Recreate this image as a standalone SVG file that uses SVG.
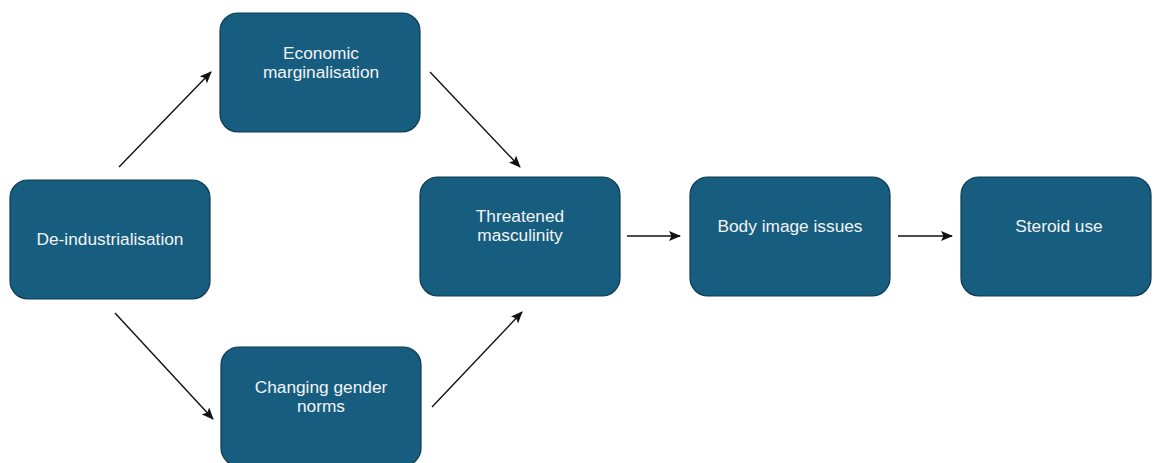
<svg xmlns="http://www.w3.org/2000/svg" width="1154" height="463" viewBox="0 0 1154 463">
<style>
.box{fill:#175d7f;stroke:#0d3a50;stroke-width:1.2}
.lbl{font-family:"Liberation Sans",Arial,Helvetica,sans-serif;font-size:17.3px;fill:#f2f4f5;text-anchor:middle}
.edge{stroke:#111;stroke-width:1.4;fill:none;marker-end:url(#arr)}
</style>
<defs>
<marker id="arr" viewBox="0 0 12 10" refX="11" refY="5" markerWidth="12" markerHeight="10" markerUnits="userSpaceOnUse" orient="auto">
<path d="M0,0 L12,5 L0,10 L2.5,5 Z" fill="#111"/>
</marker>
</defs>
<rect width="1154" height="463" fill="#ffffff"/>
<g id="connectors">
<line class="edge" x1="119" y1="167" x2="211" y2="72"/>
<line class="edge" x1="430" y1="72" x2="520" y2="167"/>
<line class="edge" x1="115" y1="313" x2="213" y2="419"/>
<line class="edge" x1="432" y1="407" x2="522" y2="312"/>
<line class="edge" x1="627" y1="236" x2="680" y2="236"/>
<line class="edge" x1="898" y1="236" x2="952" y2="236"/>
</g>
<g id="node-deindustrialisation">
<rect class="box" x="10" y="180" width="200" height="119" rx="18"/>
<text class="lbl" x="110" y="245">De-industrialisation</text>
</g>
<g id="node-economic">
<rect class="box" x="220" y="13" width="200" height="119" rx="18"/>
<text class="lbl" x="321" y="59">Economic</text>
<text class="lbl" x="321" y="77.5">marginalisation</text>
</g>
<g id="node-changing">
<rect class="box" x="221" y="347" width="200" height="119" rx="18"/>
<text class="lbl" x="321" y="393">Changing gender</text>
<text class="lbl" x="321" y="412">norms</text>
</g>
<g id="node-threatened">
<rect class="box" x="420" y="177" width="200" height="119" rx="18"/>
<text class="lbl" x="520" y="222">Threatened</text>
<text class="lbl" x="520" y="241">masculinity</text>
</g>
<g id="node-body">
<rect class="box" x="690" y="177" width="200" height="119" rx="18"/>
<text class="lbl" x="790" y="232">Body image issues</text>
</g>
<g id="node-steroid">
<rect class="box" x="961" y="177" width="190" height="119" rx="18"/>
<text class="lbl" x="1059" y="232">Steroid use</text>
</g>
</svg>
